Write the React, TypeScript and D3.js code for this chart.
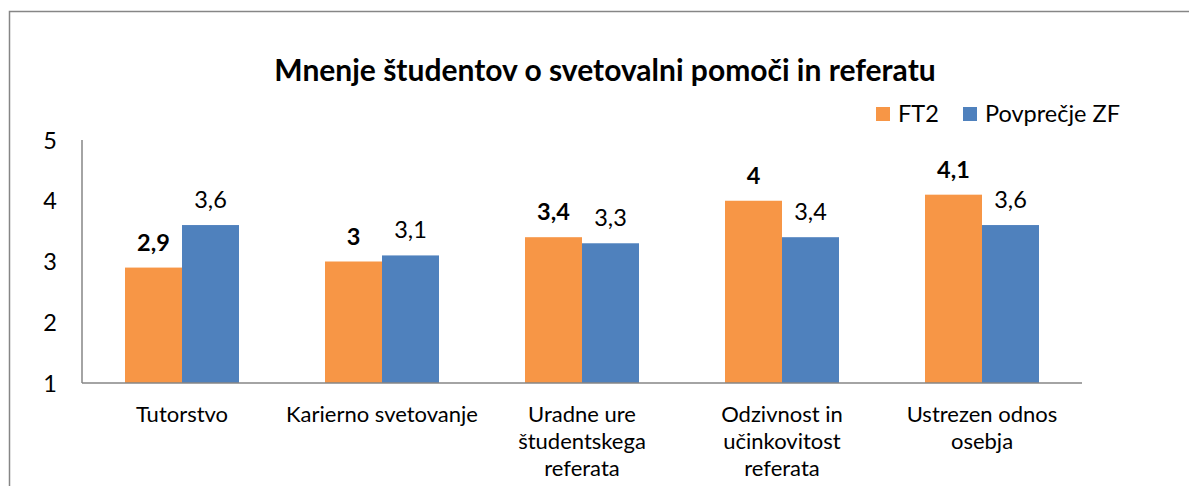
import React from "react";
import * as d3 from "d3";

const categories = [
  ["Tutorstvo"],
  ["Karierno svetovanje"],
  ["Uradne ure", "študentskega", "referata"],
  ["Odzivnost in", "učinkovitost", "referata"],
  ["Ustrezen odnos", "osebja"],
];
const seriesNames = ["FT2", "Povprečje ZF"];
const ft2Values = [2.9, 3, 3.4, 4, 4.1];
const zfValues = [3.6, 3.1, 3.3, 3.4, 3.6];
const yTicks = [1, 2, 3, 4, 5];
const colors = ["#F79646", "#4F81BD"];
const title = "Mnenje študentov o svetovalni pomoči in referatu";

const FONT = "Lato, 'Open Sans', sans-serif";

export default function App() {
  const W = 1189, H = 486;
  const left = 82, right = 1082, top = 140, bottom = 383;
  const ids = categories.map((_, i) => String(i));
  const x = d3.scaleBand().domain(ids).range([left, right]).paddingInner(0.43).paddingOuter(0.215);
  const xs = d3.scaleBand().domain(["0", "1"]).range([0, x.bandwidth()]);
  const y = d3.scaleLinear().domain([1, 5]).range([bottom, top]);
  const series = [ft2Values, zfValues];
  const fmt = (v: number) => String(v).replace(".", ",");

  return (
    <svg width={W} height={H} style={{ position: "absolute", left: 0, top: 0, background: "#fff" }}>
      <rect x={9.5} y={11.5} width={1300} height={600} fill="white" stroke="#868686" strokeWidth={1.5} />
      <text x={605} y={81} textAnchor="middle" fontFamily={FONT} fontWeight="bold" fontSize={30} fill="#000">
        {title}
      </text>
      {/* legend */}
      {seriesNames.map((n, i) => {
        const lx = i === 0 ? 876 : 963;
        return (
          <g key={n}>
            <rect x={lx} y={107} width={14} height={14} fill={colors[i]} />
            <text x={lx + 22} y={122} fontFamily={FONT} fontSize={23.5} fill="#000">{n}</text>
          </g>
        );
      })}
      {/* bars */}
      {series.map((vals, si) =>
        vals.map((v, ci) => {
          const bx = (x(String(ci)) as number) + (xs(String(si)) as number);
          return (
            <g key={`${si}-${ci}`}>
              <rect x={bx} y={y(v)} width={xs.bandwidth()} height={y(1) - y(v)} fill={colors[si]} />
              <text
                x={bx + xs.bandwidth() / 2}
                y={y(v) - 17}
                textAnchor="middle"
                fontFamily={FONT}
                fontSize={23.5}
                fontWeight={si === 0 ? "bold" : "normal"}
                fill="#000"
              >
                {fmt(v)}
              </text>
            </g>
          );
        })
      )}
      {/* axes */}
      <line x1={left} x2={left} y1={top} y2={bottom} stroke="#868686" strokeWidth={1.5} />
      <line x1={left} x2={right} y1={bottom} y2={bottom} stroke="#868686" strokeWidth={1.5} />
      {yTicks.map((t) => (
        <text key={t} x={57} y={y(t) + 8.5} textAnchor="end" fontFamily={FONT} fontSize={23.5} fill="#000">
          {t}
        </text>
      ))}
      {categories.map((lines, ci) => (
        <text
          key={ci}
          x={(x(String(ci)) as number) + x.bandwidth() / 2}
          y={422}
          textAnchor="middle"
          fontFamily={FONT}
          fontSize={22}
          fill="#000"
        >
          {lines.map((l, li) => (
            <tspan key={li} x={(x(String(ci)) as number) + x.bandwidth() / 2} dy={li === 0 ? 0 : 27}>
              {l}
            </tspan>
          ))}
        </text>
      ))}
    </svg>
  );
}
